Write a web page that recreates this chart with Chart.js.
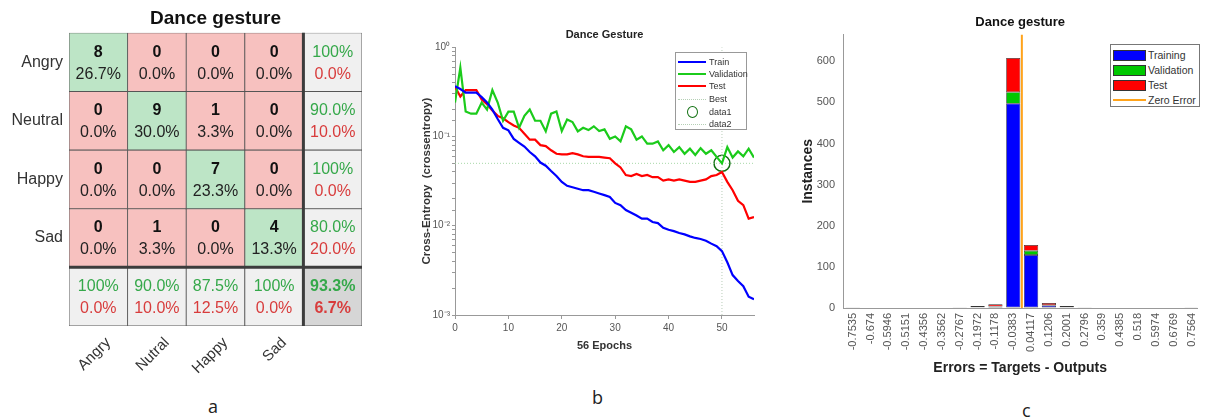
<!DOCTYPE html>
<html>
<head>
<meta charset="utf-8">
<script src="https://cdn.jsdelivr.net/npm/chart.js@4"></script>
<style>
  body { margin: 0; width: 1210px; height: 419px; background: #fff; position: relative; overflow: hidden; font-family: 'Liberation Sans', Arial, sans-serif; }
  .panel { position: absolute; top: 0; }
  .lg { position: absolute; background: #fff; border: 1px solid #999; box-sizing: border-box; }
  .r { position: absolute; left: 2px; display: flex; align-items: center; color: #333; white-space: nowrap; }
  .s { display: inline-block; flex: none; }
  .tag { position: absolute; font: 18px 'Open Sans', sans-serif; color: #222; line-height: 20px; }
</style>
</head>
<body>
<div class="panel" style="left:0;width:370px;height:386px"><canvas id="cm"></canvas></div>
<div class="panel" style="left:400px;width:380px;height:360px"><canvas id="perf"></canvas></div>
<div class="panel" style="left:780px;width:430px;height:383px"><canvas id="hist"></canvas></div>

<!-- legend of panel b -->
<div class="lg" style="left:675px;top:52px;width:72px;height:78px;font-size:9px">
  <div class="r" style="top:3px;height:12px"><i class="s" style="width:28px;margin-right:3px;border-top:2px solid #0000ff"></i>Train</div>
  <div class="r" style="top:15px;height:12px"><i class="s" style="width:28px;margin-right:3px;border-top:2px solid #1bcb1b"></i>Validation</div>
  <div class="r" style="top:27px;height:12px"><i class="s" style="width:28px;margin-right:3px;border-top:2px solid #ff0000"></i>Test</div>
  <div class="r" style="top:40px;height:12px"><i class="s" style="width:28px;margin-right:3px;border-top:1px dotted #b5cfb5"></i>Best</div>
  <div class="r" style="top:52px;height:13px"><i class="s" style="width:28px;margin-right:3px;display:flex;justify-content:center"><b style="width:11px;height:12px;border:1.5px solid #107010;border-radius:50%;box-sizing:border-box"></b></i>data1</div>
  <div class="r" style="top:65px;height:12px"><i class="s" style="width:28px;margin-right:3px;border-top:1px dotted #b5cfb5"></i>data2</div>
</div>

<!-- legend of panel c -->
<div class="lg" style="left:1110px;top:44px;width:90px;height:63px;font-size:10.5px;border-color:#777">
  <div class="r" style="top:3px;height:14px"><i class="s" style="width:33px;height:11px;margin-right:2px;background:#0000ff;border:1px solid #333;box-sizing:border-box"></i>Training</div>
  <div class="r" style="top:18px;height:14px"><i class="s" style="width:33px;height:11px;margin-right:2px;background:#00c800;border:1px solid #333;box-sizing:border-box"></i>Validation</div>
  <div class="r" style="top:33px;height:14px"><i class="s" style="width:33px;height:11px;margin-right:2px;background:#ff0000;border:1px solid #333;box-sizing:border-box"></i>Test</div>
  <div class="r" style="top:48px;height:14px"><i class="s" style="width:33px;margin-right:2px;border-top:2px solid #ffa31a"></i>Zero Error</div>
</div>

<div class="tag" style="left:208px;top:396px">a</div>
<div class="tag" style="left:592px;top:387px">b</div>
<div class="tag" style="left:1022px;top:400px">c</div>

<script>
Chart.defaults.font.family = "'Liberation Sans', Arial, sans-serif";

// === panel a : confusion matrix ===
const rowLabels = ["Angry", "Neutral", "Happy", "Sad"];
const colLabels = ["Angry", "Nutral", "Happy", "Sad"];
const counts = [
  [8, 0, 0, 0],
  [0, 9, 1, 0],
  [0, 0, 7, 0],
  [0, 1, 0, 4],
];
const rowCorrect = [100, 90.0, 100, 80.0];   // right-hand column (green %)
const colCorrect = [100, 90.0, 87.5, 100];   // bottom row (green %)
const overallCorrect = 93.3;

// === panel b : cross-entropy per epoch (epochs 0..56) ===
const trainLoss = [0.366, 0.34, 0.31, 0.31, 0.31, 0.276, 0.24, 0.2, 0.157, 0.125,
  0.117, 0.094, 0.085, 0.077, 0.067, 0.06, 0.051, 0.047, 0.041, 0.036,
  0.031, 0.028, 0.027, 0.026, 0.025, 0.025, 0.024, 0.023, 0.022, 0.021,
  0.018, 0.017, 0.015, 0.014, 0.013, 0.012, 0.012, 0.011, 0.0107, 0.0095,
  0.009, 0.0087, 0.0083, 0.008, 0.0076, 0.0073, 0.0071, 0.0068, 0.0063, 0.0059,
  0.0052, 0.0039, 0.0028, 0.0024, 0.0021, 0.0016, 0.0015];
const valLoss = [0.24, 0.59, 0.19, 0.18, 0.18, 0.24, 0.2, 0.33, 0.24, 0.15,
  0.19, 0.19, 0.125, 0.17, 0.2, 0.15, 0.15, 0.114, 0.18, 0.19,
  0.115, 0.155, 0.145, 0.114, 0.125, 0.118, 0.13, 0.115, 0.12, 0.094,
  0.1, 0.088, 0.13, 0.12, 0.092, 0.1, 0.083, 0.083, 0.088, 0.07,
  0.08, 0.067, 0.076, 0.064, 0.073, 0.062, 0.074, 0.064, 0.07, 0.059,
  0.05, 0.076, 0.058, 0.068, 0.06, 0.073, 0.058];
const testLoss = [0.36, 0.28, 0.33, 0.33, 0.33, 0.26, 0.23, 0.195, 0.17, 0.16,
  0.145, 0.133, 0.125, 0.107, 0.092, 0.092, 0.08, 0.078, 0.07, 0.064,
  0.063, 0.063, 0.065, 0.063, 0.06, 0.059, 0.059, 0.059, 0.058, 0.057,
  0.05, 0.045, 0.037, 0.036, 0.038, 0.036, 0.037, 0.035, 0.035, 0.032,
  0.033, 0.032, 0.033, 0.032, 0.031, 0.031, 0.032, 0.033, 0.036, 0.037,
  0.04, 0.031, 0.025, 0.019, 0.017, 0.012, 0.0125];
const bestEpoch = 50;
const bestValue = 0.05;

// === panel c : error histogram ===
const bins = [-0.7535, -0.674, -0.5946, -0.5151, -0.4356, -0.3562, -0.2767, -0.1972, -0.1178, -0.0383,
  0.04117, 0.1206, 0.2001, 0.2796, 0.359, 0.4385, 0.518, 0.5974, 0.6769, 0.7564];
const histTraining   = [1, 0, 0, 0, 0, 0, 1, 2, 3, 497, 129, 6, 2, 1, 0, 0, 0, 0, 0, 1];
const histValidation = [0, 0, 0, 0, 0, 0, 0, 0, 1, 28, 10, 1, 0, 0, 0, 0, 0, 0, 0, 0];
const histTest       = [1, 0, 0, 0, 0, 0, 1, 3, 5, 83, 14, 5, 3, 1, 0, 0, 0, 0, 0, 1];
const histMax = 665;

// ---------- confusion matrix ----------
const GREEN_CELL = "#bde5c6", RED_CELL = "#f7c1bf", GREY_CELL = "#f0f0f0", DARK_CELL = "#d6d6d6";
const GREEN_TXT = "#35a84a", RED_TXT = "#d83c3c";
const fmtPct = (v) => (v === 100 ? "100%" : v.toFixed(1) + "%");
const total = counts.flat().reduce((a, b) => a + b, 0);

// one floating bar per cell, rows 0..4 (row 4 = summary)
const matrixRows = [0, 1, 2, 3, 4].map((r) => ({
  label: "row" + r,
  data: [0, 1, 2, 3, 4].map(() => [r, r + 1]),
  backgroundColor: [0, 1, 2, 3, 4].map((c) => {
    if (r < 4 && c < 4) return r === c ? GREEN_CELL : RED_CELL;
    return r === 4 && c === 4 ? DARK_CELL : GREY_CELL;
  }),
}));

const cmText = {
  id: "cmText",
  afterDatasetsDraw(chart) {
    const ctx = chart.ctx;
    ctx.save();
    ctx.textAlign = "center";
    ctx.textBaseline = "middle";
    chart.data.datasets.forEach((ds, r) => {
      chart.getDatasetMeta(r).data.forEach((bar, c) => {
        const { x, y } = bar.getCenterPoint();
        let lines;
        if (r < 4 && c < 4) {
          const n = counts[r][c];
          lines = [
            [String(n), "bold 16px", "#111"],
            [((n / total) * 100).toFixed(1) + "%", "16px", "#222"],
          ];
        } else {
          const g = r === 4 && c === 4 ? overallCorrect : r === 4 ? colCorrect[c] : rowCorrect[r];
          const w = r === 4 && c === 4 ? "bold 16px" : "16px";
          lines = [
            [fmtPct(g), w, GREEN_TXT],
            [fmtPct(100 - g), w, RED_TXT],
          ];
        }
        lines.forEach(([t, f, col], k) => {
          ctx.font = f + " 'Liberation Sans', Arial, sans-serif";
          ctx.fillStyle = col;
          ctx.fillText(t, x, y + (k === 0 ? -10 : 12));
        });
      });
    });
    // thick separators of the summary row / column
    const xs = chart.scales.x, ys = chart.scales.y, a = chart.chartArea;
    ctx.strokeStyle = "#3c3c3c";
    ctx.lineWidth = 3;
    ctx.beginPath();
    ctx.moveTo(xs.getPixelForValue(3.5), a.top);
    ctx.lineTo(xs.getPixelForValue(3.5), a.bottom);
    ctx.moveTo(a.left, ys.getPixelForValue(4));
    ctx.lineTo(a.right, ys.getPixelForValue(4));
    ctx.stroke();
    ctx.restore();
  },
};

new Chart(document.getElementById("cm"), {
  type: "bar",
  data: { labels: [...colLabels, ""], datasets: matrixRows },
  options: {
    responsive: true,
    maintainAspectRatio: false,
    animation: false,
    layout: { padding: { left: 0, right: 8, top: 0, bottom: 0 } },
    datasets: {
      bar: { barPercentage: 1, categoryPercentage: 1, borderWidth: 0.8, borderColor: "#555", borderSkipped: false },
    },
    plugins: {
      legend: { display: false },
      tooltip: { enabled: false },
      title: {
        display: true, text: "Dance gesture", fullSize: false, color: "#111",
        font: { size: 19, weight: "bold" }, padding: { top: 7, bottom: 3 },
      },
    },
    scales: {
      x: {
        stacked: true,
        offset: true,
        grid: { display: false, drawTicks: false },
        border: { display: false },
        ticks: { color: "#333", font: { size: 15 }, minRotation: 45, maxRotation: 45, padding: 8, labelOffset: 10 },
        afterFit(s) { s.height = 60; },
      },
      y: {
        min: 0, max: 5, reverse: true,
        grid: { display: false, drawTicks: false },
        border: { display: false },
        afterBuildTicks(s) { s.ticks = rowLabels.map((_, i) => ({ value: i + 0.5 })); },
        ticks: { color: "#333", font: { size: 16 }, padding: 6, callback: (v, i) => rowLabels[i] },
        afterFit(s) { s.width = 69; },
      },
    },
  },
  plugins: [cmText],
});

// ---------- performance curve ----------
const SUP = { "0": "\u2070", "1": "\u00b9", "2": "\u00b2", "3": "\u00b3", "-": "\u207b" };
const sup = (n) => String(n).split("").map((ch) => SUP[ch]).join("");
const pts = (arr) => arr.map((v, i) => ({ x: i, y: v }));

new Chart(document.getElementById("perf"), {
  type: "line",
  data: {
    datasets: [
      { label: "Train", data: pts(trainLoss), borderColor: "#0000ff", borderWidth: 2.2 },
      { label: "Validation", data: pts(valLoss), borderColor: "#1bcb1b", borderWidth: 2.2 },
      { label: "Test", data: pts(testLoss), borderColor: "#ff0000", borderWidth: 2.2 },
      { label: "Best", data: [{ x: 0, y: bestValue }, { x: 56, y: bestValue }], borderColor: "#a8d8a8", borderWidth: 1, borderDash: [1, 2] },
      { label: "data2", data: [{ x: bestEpoch, y: 0.001 }, { x: bestEpoch, y: 1 }], borderColor: "#b8ccb8", borderWidth: 1, borderDash: [1, 2] },
      {
        label: "data1", data: [{ x: bestEpoch, y: bestValue }], showLine: false,
        pointRadius: 8, borderColor: "#107010", borderWidth: 1.5, backgroundColor: "rgba(0,0,0,0)",
      },
    ],
  },
  options: {
    responsive: true,
    maintainAspectRatio: false,
    animation: false,
    layout: { padding: { right: 26 } },
    elements: { point: { radius: 0 }, line: { tension: 0 } },
    plugins: {
      legend: { display: false },
      tooltip: { enabled: false },
      title: {
        display: true, text: "Dance Gesture", fullSize: false, color: "#222",
        font: { size: 11, weight: "bold" }, padding: { top: 28, bottom: 6 },
      },
    },
    scales: {
      x: {
        type: "linear", min: 0, max: 56,
        ticks: { stepSize: 10, includeBounds: false, color: "#555", font: { size: 10 }, padding: 3 },
        grid: { drawOnChartArea: false, tickLength: 4, color: "#999" },
        border: { color: "#999" },
        title: { display: true, text: "56 Epochs", color: "#333", font: { size: 11, weight: "bold" }, padding: { top: 0, bottom: 7 } },
        afterFit(s) { s.height = 45; },
      },
      y: {
        type: "logarithmic", min: 0.001, max: 1,
        ticks: {
          autoSkip: false, color: "#555", font: { size: 10 }, padding: 2,
          callback: (v) => {
            const e = Math.log10(v);
            return Math.abs(e - Math.round(e)) < 1e-9 ? "10" + sup(Math.round(e)) : "";
          },
        },
        grid: { drawOnChartArea: false, tickLength: 3, color: "#999" },
        border: { color: "#999" },
        title: {
          display: true, text: "Cross-Entropy  (crossentropy)", color: "#333",
          font: { size: 11.5, weight: "bold" }, padding: { top: 20, bottom: 0 },
        },
        afterFit(s) { s.width = 55; },
      },
    },
  },
});

// ---------- error histogram ----------
const binPts = (arr) => arr.map((v, i) => ({ x: bins[i], y: v === 0 ? null : v }));

new Chart(document.getElementById("hist"), {
  type: "bar",
  data: {
    datasets: [
      { label: "Training", data: binPts(histTraining), backgroundColor: "#0000ff" },
      { label: "Validation", data: binPts(histValidation), backgroundColor: "#00c800" },
      { label: "Test", data: binPts(histTest), backgroundColor: "#ff0000" },
      {
        type: "line", label: "Zero Error", stack: "zero", order: -1,
        data: [{ x: 0, y: 0 }, { x: 0, y: histMax }],
        borderColor: "#ffa31a", borderWidth: 2, pointRadius: 0,
      },
    ],
  },
  options: {
    responsive: true,
    maintainAspectRatio: false,
    animation: false,
    layout: { padding: { right: 2 } },
    datasets: {
      bar: { barPercentage: 0.8, categoryPercentage: 1, borderWidth: 0.7, borderColor: "#333", borderSkipped: false },
    },
    plugins: {
      legend: { display: false },
      tooltip: { enabled: false },
      title: {
        display: true, text: "Dance gesture", fullSize: false, color: "#111",
        font: { size: 13, weight: "bold" }, padding: { top: 15, bottom: 4 },
      },
    },
    scales: {
      x: {
        type: "linear", stacked: true, offset: false, min: -0.797, max: 0.782,
        afterBuildTicks(s) { s.ticks = bins.map((v) => ({ value: v })); },
        ticks: {
          autoSkip: false, minRotation: 90, maxRotation: 90, color: "#555",
          font: { size: 11 }, padding: 5, callback: (v, i) => String(bins[i]),
        },
        grid: { drawOnChartArea: false, drawTicks: false, color: "#999" },
        border: { color: "#999" },
        title: { display: true, text: "Errors = Targets - Outputs", color: "#222", font: { size: 14, weight: "bold" }, padding: { top: 0, bottom: 6 } },
        afterFit(s) { s.height = 75; },
      },
      y: {
        stacked: true, min: 0, max: histMax,
        ticks: { stepSize: 100, includeBounds: false, color: "#555", font: { size: 11 }, padding: 8 },
        grid: { drawOnChartArea: false, drawTicks: false, color: "#999" },
        border: { color: "#999" },
        title: { display: true, text: "Instances", color: "#222", font: { size: 14, weight: "bold" }, padding: { top: 20, bottom: 0 } },
        afterFit(s) { s.width = 63; },
      },
    },
  },
});
</script>
</body>
</html>
